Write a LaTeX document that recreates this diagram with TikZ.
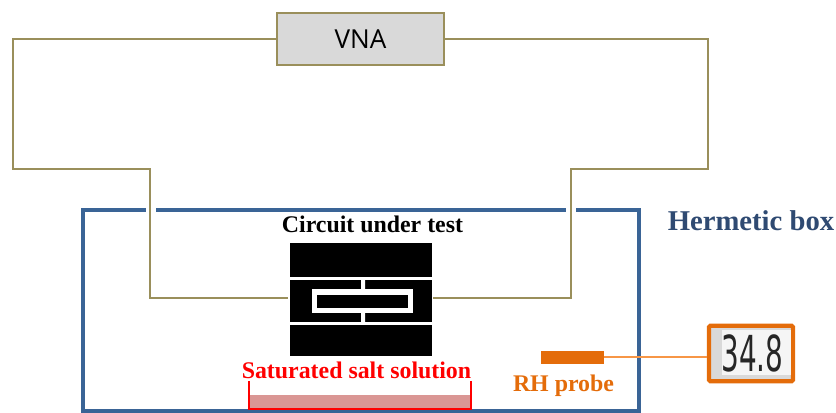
\documentclass[tikz,border=0pt]{standalone}
\usepackage{fontspec}
\setmainfont{Liberation Serif}
\newfontfamily\vnafont{Open Sans}
\newfontfamily\lcdfont{DejaVu Sans}
\definecolor{wirec}{HTML}{9A8F5B}
\definecolor{boxblue}{HTML}{3A6496}
\definecolor{navyt}{HTML}{2F4A72}
\definecolor{orangeD}{HTML}{E46C0A}
\definecolor{orangeL}{HTML}{F79646}
\definecolor{saltc}{HTML}{DA9694}
\definecolor{grayf}{HTML}{D9D9D9}
\tikzset{
  wire/.style={draw=wirec,line width=1.7pt,line join=miter},
  vnabox/.style={draw=wirec,fill=grayf,line width=1.7pt,minimum width=125.25pt,minimum height=39pt,inner sep=0pt,font=\vnafont\fontsize{19.6pt}{22pt}\selectfont},
  boxwall/.style={draw=boxblue,line width=3pt,line join=miter},
  bar/.style={fill=black,draw=none},
  lbl/.style={font=\bfseries\fontsize{17.9pt}{20pt}\selectfont,inner sep=0pt},
}
\begin{document}
\begin{tikzpicture}[x=0.75pt,y=-0.75pt]
\useasboundingbox (0,0) rectangle (836,413);
% hermetic box
\draw[boxwall] (156,210) -- (566,210);
\draw[boxwall] (576,210) -- (639,210) -- (639,411) -- (83,411) -- (83,210) -- (146,210);
% device
\fill[bar] (289.5,243) rectangle (432,277);
\fill[bar] (289.5,280) rectangle (432,322);
\fill[bar] (289.5,325.5) rectangle (432,356);
\fill[white] (361,280) rectangle (365,290) (361,312) rectangle (365,322);
\fill[white] (312,289) rectangle (413,313);
\fill[bar] (317,295) rectangle (408,308);
\coordinate (devL) at (288,298);
\coordinate (devR) at (433,298);
% VNA and wires
\node[vnabox] (vna) at (360.5,39) {VNA};
\coordinate (a1) at (13,39);
\coordinate (a2) at (13,169);
\coordinate (a3) at (150,169);
\coordinate (a4) at (150,298);
\coordinate (b1) at (708,39);
\coordinate (b2) at (708,169);
\coordinate (b3) at (571,169);
\coordinate (b4) at (571,298);
\draw[wire] (vna.west) -- (a1) -- (a2) -- (a3) -- (a4) -- (devL);
\draw[wire] (vna.east) -- (b1) -- (b2) -- (b3) -- (b4) -- (devR);
% labels
\node[lbl] (cut) at (372.5,224) {Circuit under test};
\node[lbl,text=navyt,font=\bfseries\fontsize{21.5pt}{24pt}\selectfont] (herm) at (751,221) {Hermetic box};
\node[lbl,text=red] (salt) at (356.5,370) {Saturated salt solution};
\node[lbl,text=orangeD] (rh) at (563.5,386) {RH probe};
% salt dish
\fill[saltc] (249,395) rectangle (471,408);
\draw[red,line width=1.5pt] (249,381) -- (249,409) -- (471,409) -- (471,381);
% probe and display
\node[fill=orangeD,draw=none,minimum width=47.25pt,minimum height=9.75pt,inner sep=0pt] (probe) at (572.5,357.5) {};
\node[draw=orangeD,fill=grayf,line width=3.2pt,rounded corners=1pt,minimum width=63pt,minimum height=41.5pt,inner sep=0pt] (disp) at (751,353.5) {};
\coordinate (dispin) at (707,357.5);
\fill[white!96!black] (722,330) rectangle (790.5,375);
\node[inner sep=0pt,text=black!85] (val) at (752.5,353) {\scalebox{0.87}[1.55]{\lcdfont\fontsize{24pt}{26pt}\selectfont 34.8}};
\draw[orangeL,line width=1.5pt] (probe.east) -- (dispin);
\end{tikzpicture}
\end{document}
